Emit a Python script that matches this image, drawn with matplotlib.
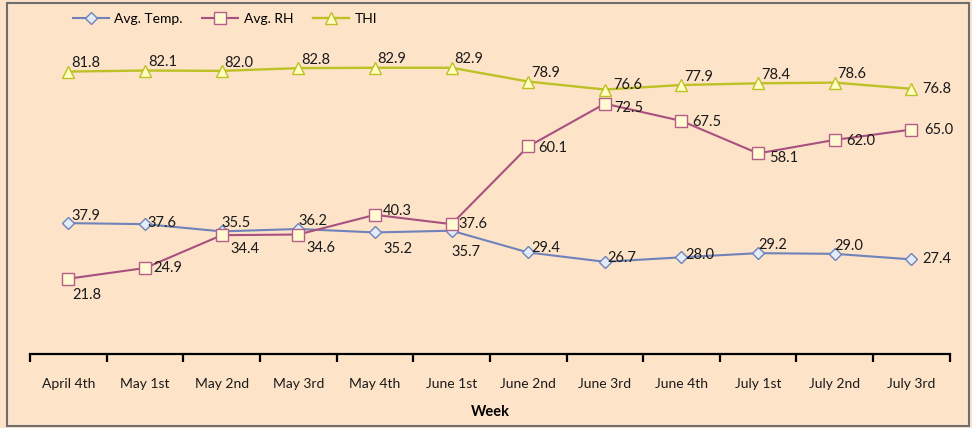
import matplotlib
matplotlib.use('Agg')
import matplotlib.pyplot as plt
from matplotlib.patches import Rectangle
from matplotlib.ticker import FixedLocator

plt.rcParams['font.family'] = ['Lato', 'DejaVu Sans']

weeks = ['April 4th', 'May 1st', 'May 2nd', 'May 3rd', 'May 4th', 'June 1st',
         'June 2nd', 'June 3rd', 'June 4th', 'July 1st', 'July 2nd', 'July 3rd']
avg_temp = [37.9, 37.6, 35.5, 36.2, 35.2, 35.7, 29.4, 26.7, 28.0, 29.2, 29.0, 27.4]
avg_rh   = [21.8, 24.9, 34.4, 34.6, 40.3, 37.6, 60.1, 72.5, 67.5, 58.1, 62.0, 65.0]
thi      = [81.8, 82.1, 82.0, 82.8, 82.9, 82.9, 78.9, 76.6, 77.9, 78.4, 78.6, 76.8]

# label offsets in points (dx, dy), picked by eye
temp_off = [(2, 5), (2, 1), (0, 6), (0, 6), (6, -7), (0, -10), (2, 3), (2, 3), (3, 2), (0, 6), (0, 6), (8, 0)]
rh_off   = [(3, -7), (6, 0), (6, -5), (6, -5), (6, 3), (5, 0), (7, -1), (7, -3), (8, -1), (8, -3), (8, -1), (9, 0)]
thi_off  = [(2, 6), (2, 6), (2, 6), (2, 6), (2, 6), (2, 6), (2, 6), (6, 3), (2, 6), (2, 6), (2, 6), (8, 0)]

bg = '#FDE3C8'
fig = plt.figure(figsize=(9.72, 4.28), dpi=100, facecolor=bg)
ax = fig.add_axes([0.031, 0.173, 0.946, 0.734], facecolor=bg)
fig.patches.append(Rectangle((0.007, 0.005), 0.99, 0.988, transform=fig.transFigure,
                             fill=False, edgecolor='#6E6E6E', linewidth=1.5))

x = range(len(weeks))
ax.plot(x, avg_temp, color='#6F82BA', lw=1.5, marker='D', ms=6,
        mfc='#E2ECFA', mec='#6F82BA', mew=1.0, label='Avg. Temp.', zorder=3)
ax.plot(x, avg_rh, color='#A8507F', lw=1.5, marker='s', ms=8.5,
        mfc='#FFFAD2', mec='#B55E8A', mew=1.0, label='Avg. RH', zorder=3)
ax.plot(x, thi, color='#BDC125', lw=1.7, marker='^', ms=8.5,
        mfc='#FFFFC4', mec='#BDC125', mew=1.0, label='THI', zorder=3)

def put_labels(vals, offs):
    for i, (v, o) in enumerate(zip(vals, offs)):
        ax.annotate(f'{v:.1f}', (i, v), xytext=o, textcoords='offset points',
                    ha='left', va='center' if o[1] > -5 else 'top', fontsize=10.5,
                    color='#1A1A1A', zorder=4)

put_labels(avg_temp, temp_off)
put_labels(avg_rh, rh_off)
put_labels(thi, thi_off)

ax.set_xlim(-0.5, 11.5)
ax.set_ylim(0, 91)
ax.set_yticks([])
for s in ['top', 'right', 'left']:
    ax.spines[s].set_visible(False)
ax.spines['bottom'].set_linewidth(1.6)
ax.set_xticks(list(x))
ax.set_xticklabels(weeks, fontsize=10, color='#1A1A1A')
ax.xaxis.set_minor_locator(FixedLocator([i - 0.5 for i in range(len(weeks) + 1)]))
ax.tick_params(axis='x', which='major', length=0, pad=17)
ax.tick_params(axis='x', which='minor', length=6, width=1.6, direction='out')
ax.set_xlabel('Week', fontsize=10.5, fontweight='bold', labelpad=11)

fig.legend(loc='upper left', bbox_to_anchor=(0.062, 0.998), ncol=3, frameon=False,
           fontsize=10, handlelength=2.6, columnspacing=1.4, handletextpad=0.4)

fig.savefig('out.png', dpi=100, facecolor=bg)
